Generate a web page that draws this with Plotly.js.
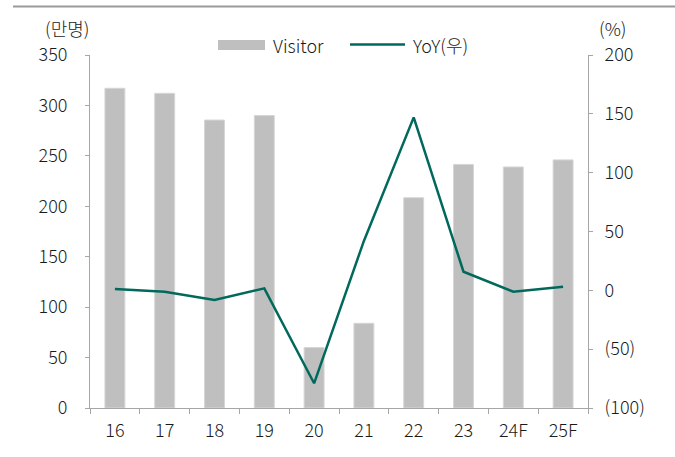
<!DOCTYPE html>
<html>
<head>
<meta charset="utf-8">
<script src="https://cdn.plot.ly/plotly-3.0.1.min.js"></script>
<style>html,body{margin:0;padding:0;background:#fff;}#chart{width:675px;height:457px;}</style>
</head>
<body>
<div id="chart"></div>
<script>
const categories = ['16','17','18','19','20','21','22','23','24F','25F'];
const visitors = [317, 312, 285.5, 290, 60, 84, 208.5, 241.5, 239, 246];
const yoy = [1.1, -1.2, -8.2, 1.7, -79, 42, 147, 15.8, -1.2, 3.1];
const leftTicks = [0, 50, 100, 150, 200, 250, 300, 350];
const rightTicks = [-100, -50, 0, 50, 100, 150, 200];
const rightTickText = ['(100)', '(50)', '0', '50', '100', '150', '200'];
const leftUnit = '(만명)';
const rightUnit = '(%)';
const seriesNames = ['Visitor', 'YoY(우)'];

const W = 675, H = 457;
const M = {l: 90, r: 87, t: 54.5, b: 49};
const pw = W - M.l - M.r, ph = H - M.t - M.b;
const px = x => (x - M.l) / pw;
const py = y => (H - M.b - y) / ph;

const FONT = '"Noto Sans CJK KR", "Noto Sans", sans-serif';
const TXT = '#1a1a1a';
const FW = 300;
const F = {family: FONT, size: 18, color: TXT, weight: FW};
const AX = '#a6a6a6';
const BAR = '#bfbfbf';
const LINE = '#00695c';

const traces = [
  {type: 'bar', x: categories, y: visitors, name: seriesNames[0],
   marker: {color: BAR, line: {color: '#d6d6d6', width: 1}}, showlegend: false, hoverinfo: 'x+y'},
  {type: 'scatter', mode: 'lines', x: categories, y: yoy, name: seriesNames[1], yaxis: 'y2',
   line: {color: LINE, width: 2.5}, showlegend: false, hoverinfo: 'x+y'}
];

const layout = {
  width: W, height: H,
  margin: M,
  paper_bgcolor: '#fff', plot_bgcolor: '#fff',
  font: F,
  bargap: 0.6,
  showlegend: false,
  xaxis: {type: 'category', showline: true, linecolor: AX, linewidth: 1,
          ticks: 'outside', tickson: 'boundaries', ticklen: 5, tickcolor: AX,
          showgrid: false, zeroline: false, ticklabelstandoff: 6, tickfont: F},
  yaxis: {range: [0, 350], tickvals: leftTicks, showline: true, linecolor: AX,
          ticks: 'outside', ticklen: 4, tickcolor: AX, showgrid: false, zeroline: false,
          ticklabelstandoff: 14, tickfont: F},
  yaxis2: {range: [-100, 200], tickvals: rightTicks, ticktext: rightTickText,
           overlaying: 'y', side: 'right', showline: true, linecolor: AX,
           ticks: 'outside', ticklen: 4, tickcolor: AX, showgrid: false, zeroline: false,
           ticklabelstandoff: 8, tickfont: F},
  shapes: [
    {type: 'line', xref: 'paper', yref: 'paper', x0: px(13), x1: px(675), y0: py(6), y1: py(6),
     line: {color: '#9a9a9a', width: 2}},
    {type: 'rect', xref: 'paper', yref: 'paper', x0: px(218), x1: px(265), y0: py(49.5), y1: py(39.5),
     fillcolor: BAR, line: {width: 0}},
    {type: 'line', xref: 'paper', yref: 'paper', x0: px(350), x1: px(405), y0: py(44), y1: py(44),
     line: {color: LINE, width: 2.5}}
  ],
  annotations: [
    {xref: 'paper', yref: 'paper', x: px(67), y: py(27), text: leftUnit, showarrow: false,
     xanchor: 'center', yanchor: 'middle', font: F},
    {xref: 'paper', yref: 'paper', x: px(613), y: py(27), text: rightUnit, showarrow: false,
     xanchor: 'center', yanchor: 'middle', font: F},
    {xref: 'paper', yref: 'paper', x: px(271), y: py(44), text: seriesNames[0], showarrow: false,
     xanchor: 'left', yanchor: 'middle', font: F},
    {xref: 'paper', yref: 'paper', x: px(411), y: py(44), text: seriesNames[1], showarrow: false,
     xanchor: 'left', yanchor: 'middle', font: F}
  ]
};

Plotly.newPlot('chart', traces, layout, {staticPlot: true, displayModeBar: false});
</script>
</body>
</html>
